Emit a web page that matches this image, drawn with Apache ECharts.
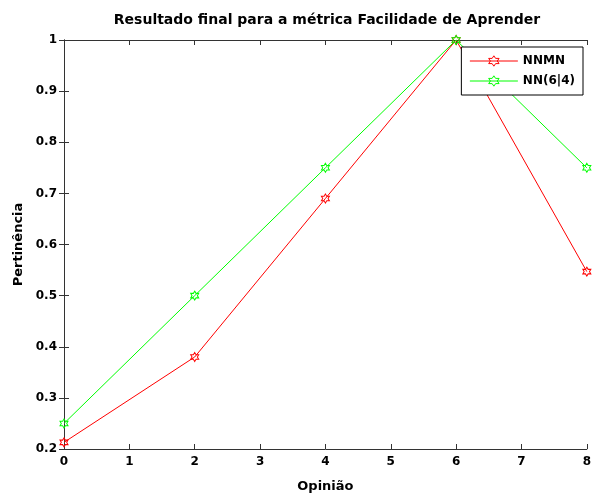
<!DOCTYPE html>
<html>
<head>
<meta charset="utf-8">
<script src="https://cdn.jsdelivr.net/npm/echarts@6/dist/echarts.min.js"></script>
<style>
  html, body { margin: 0; padding: 0; background: #fff; }
  #chart { width: 594px; height: 498px; }
</style>
</head>
<body>
<div id="chart"></div>
<script>
// Opinion levels on the x axis and membership values for each method
const opinioes = [0, 2, 4, 6, 8];
const nnmn = [0.213, 0.38, 0.69, 1.0, 0.547];
const nn64 = [0.25, 0.5, 0.75, 1.0, 0.75];
const seriesNames = ['NNMN', 'NN(6|4)'];
const seriesColors = ['#ff0000', '#00ff00'];

// Six-pointed star marker
const hexagram = 'path://M10 0 L12.887 5 L18.66 5 L15.77 10 L18.66 15 L12.887 15 L10 20 L7.113 15 L1.34 15 L4.23 10 L1.34 5 L7.113 5 Z';

const font = 'DejaVu Sans, Verdana, sans-serif';
const axisColor = '#333';
const hollow = 'rgba(255,255,255,0)';

function pairs(xs, ys) { return xs.map((x, i) => [x, ys[i]]); }

function makeSeries(name, values, color) {
  return {
    name: name,
    type: 'line',
    data: pairs(opinioes, values),
    symbol: hexagram,
    symbolSize: [8, 9],
    showAllSymbol: true,
    clip: false,
    color: color,
    lineStyle: { color: color, width: 1 },
    itemStyle: { color: hollow, borderColor: color, borderWidth: 1 },
    emphasis: { disabled: true },
    animation: false
  };
}

function boxAxis(extra) {
  return Object.assign({
    axisLine: { show: true, lineStyle: { color: axisColor, width: 1 } },
    axisTick: { show: true, inside: true, length: 5, lineStyle: { color: axisColor } },
    splitLine: { show: false }
  }, extra);
}

const labelText = { fontFamily: font, fontWeight: 'bold', fontSize: 12, color: '#000' };
const nameText = { fontFamily: font, fontWeight: 'bold', fontSize: 13, color: '#000' };

const chart = echarts.init(document.getElementById('chart'));
chart.setOption({
  backgroundColor: '#fff',
  animation: false,
  title: {
    text: 'Resultado final para a métrica Facilidade de Aprender',
    left: 322, top: 8, textAlign: 'center',
    textStyle: Object.assign({}, nameText, { fontSize: 14 })
  },
  grid: { left: 64, right: 4, top: 40, bottom: 45, containLabel: false },
  legend: {
    orient: 'vertical',
    right: 11, top: 47,
    data: seriesNames.map((n, i) => ({
      name: n,
      itemStyle: { color: hollow, borderColor: seriesColors[i], borderWidth: 1 },
      lineStyle: { color: seriesColors[i], width: 1 }
    })),
    itemWidth: 48, itemHeight: 13, itemGap: 8,
    padding: [8, 8, 8, 8],
    backgroundColor: '#fff',
    borderColor: '#000', borderWidth: 1, borderRadius: 0,
    textStyle: Object.assign({}, nameText, { fontSize: 12 })
  },
  xAxis: [
    boxAxis({
      type: 'value', min: 0, max: 8, interval: 1,
      name: 'Opinião', nameLocation: 'middle', nameGap: 31,
      nameTextStyle: nameText,
      axisLabel: Object.assign({ margin: 7 }, labelText)
    }),
    boxAxis({
      type: 'value', min: 0, max: 8, interval: 1, position: 'top',
      axisLabel: { show: false }
    })
  ],
  yAxis: [
    boxAxis({
      type: 'value', min: 0.2, max: 1, interval: 0.1,
      name: 'Pertinência', nameLocation: 'middle', nameGap: 39,
      nameTextStyle: nameText,
      axisLabel: Object.assign({
        margin: 7,
        formatter: v => (Math.round(v * 10) / 10).toString()
      }, labelText)
    }),
    boxAxis({
      type: 'value', min: 0.2, max: 1, interval: 0.1, position: 'right',
      axisLabel: { show: false }
    })
  ],
  series: [
    makeSeries(seriesNames[0], nnmn, seriesColors[0]),
    makeSeries(seriesNames[1], nn64, seriesColors[1])
  ]
});
</script>
</body>
</html>
